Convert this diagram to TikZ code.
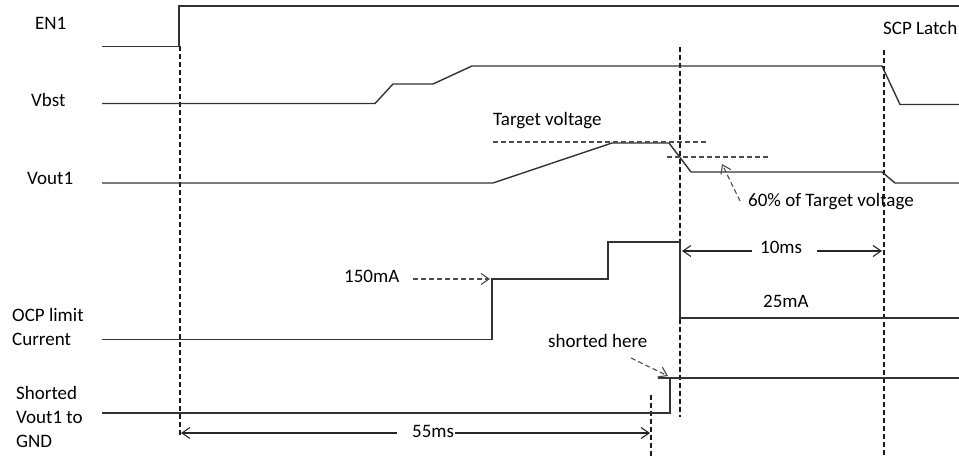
\documentclass[tikz,border=0pt]{standalone}
\usepackage{fontspec}
\setmainfont{Carlito}
\usetikzlibrary{arrows.meta}
\begin{document}
\begin{tikzpicture}[x=1pt,y=-1pt,
  sig/.style={line width=1.4pt, draw=black!80, line join=miter},
  vdash/.style={line width=1.1pt, draw=black!90, dash pattern=on 5pt off 3pt},
  hdash/.style={line width=1.1pt, draw=black!70, dash pattern=on 5pt off 3pt},
  lbl/.style={anchor=base west, inner sep=0pt, font=\fontsize{19}{23}\selectfont, text=black},
  barb/.style={-{Straight Barb[length=8pt,width=11pt,line width=1.1pt]}},
  dimarrow/.style={line width=1.2pt, draw=black!85, barb},
  notearrow/.style={line width=1.1pt, draw=black!70, dash pattern=on 5pt off 3pt, barb},
]
\useasboundingbox (0,0) rectangle (959,457);

% left labels
\node[lbl] (en1) at (35,30) {EN1};
\node[lbl] (vbst) at (31,107) {Vbst};
\node[lbl] (vout) at (27,185) {Vout1};
\node[lbl] (ocp1) at (12,321) {OCP limit};
\node[lbl] (ocp2) at (12,345) {Current};
\node[lbl] (sh1) at (16,399) {Shorted};
\node[lbl] (sh2) at (16,423) {Vout1 to};
\node[lbl] (sh3) at (16,447) {GND};

% other labels
\node[lbl] (tv) at (493,126) {Target voltage};
\node[lbl] (scp) at (883,35) {SCP Latch};
\node[lbl] (sixty) at (748,207) {60\% of Target voltage};
\node[lbl] (ma150) at (344,283) {150mA};
\node[lbl] (ms10) at (760,254) {10ms};
\node[lbl] (ma25) at (763,308) {25mA};
\node[lbl] (shh) at (548,347) {shorted here};
\node[lbl] (ms55) at (412,437) {55ms};

% dashed vertical markers
\draw[vdash] (180,46) -- (180,437);
\draw[vdash] (680,47) -- (680,417);
\draw[vdash] (884,50) -- (884,457);
\draw[vdash] (651,395) -- (651,457);

% signals
\draw[sig] (102,46.5) -- (179,46.5) -- (179,6) -- (959,6);
\draw[sig] (102,103.5) -- (375,103.5) -- (393,84) -- (433,84) -- (472,66) -- (882,66) -- (900,104.5) -- (959,104.5);
\draw[sig] (102,183) -- (493,183) -- (612,143) -- (669,143) -- (691,172) -- (882,172) -- (895,183) -- (959,183);
\draw[sig] (102,339.5) -- (492,339.5) -- (492,279) -- (608,279) -- (608,242) -- (680,242) -- (680,318) -- (959,318);
\draw[sig] (102,413) -- (670,413) -- (670,378);
\draw[sig] (658,378) -- (959,378);

% reference levels
\draw[hdash] (493,142) -- (708,142);
\draw[hdash] (667,157) -- (768,157);

% arrow end points
\coordinate (a150s) at (413,279);
\coordinate (a150e) at (490,279);
\coordinate (a10ls) at (752,251);
\coordinate (a10le) at (682,251);
\coordinate (a10rs) at (817,251);
\coordinate (a10re) at (882,251);
\coordinate (a55ls) at (397,433);
\coordinate (a55le) at (181,433);
\coordinate (a55rs) at (455,433);
\coordinate (a55re) at (650,433);
\coordinate (a60s) at (740,201);
\coordinate (a60e) at (722,164);
\coordinate (ashs) at (631,358);
\coordinate (ashe) at (668,376);

\draw[notearrow] (a150s) -- (a150e);
\draw[dimarrow] (a10ls) -- (a10le);
\draw[dimarrow] (a10rs) -- (a10re);
\draw[dimarrow] (a55ls) -- (a55le);
\draw[dimarrow] (a55rs) -- (a55re);
\draw[notearrow] (a60s) -- (a60e);
\draw[notearrow] (ashs) -- (ashe);
\end{tikzpicture}
\end{document}
